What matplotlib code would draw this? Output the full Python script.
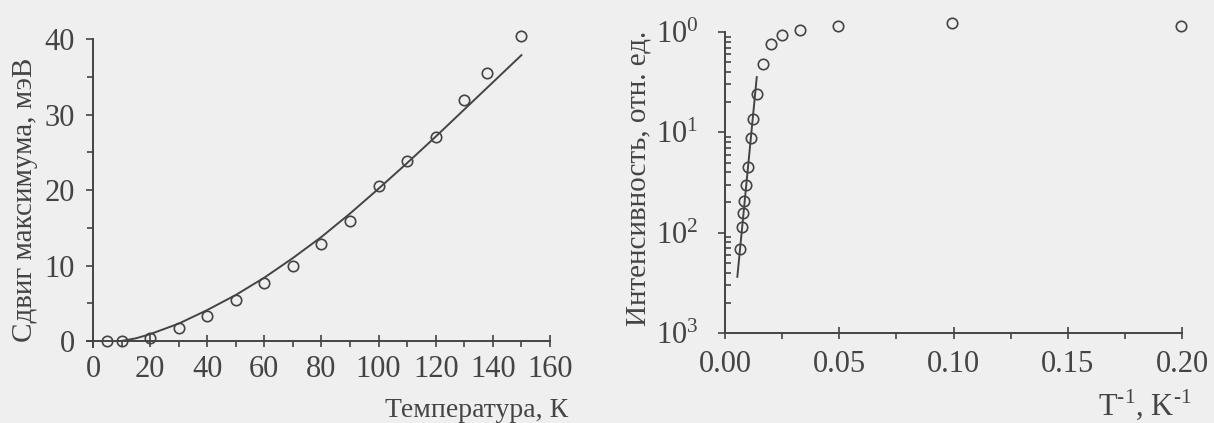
import matplotlib
matplotlib.use("Agg")
import matplotlib.pyplot as plt
from matplotlib.ticker import MultipleLocator, FixedLocator, LogLocator, NullFormatter

plt.rcParams['font.family'] = ['Liberation Serif', 'DejaVu Serif']
plt.rcParams['mathtext.fontset'] = 'custom'
plt.rcParams['mathtext.rm'] = 'Liberation Serif'

ink = '#444444'
paper = '#efefef'

# left panel: peak shift vs temperature
temp = [5, 10, 20, 30, 40, 50, 60, 70, 80, 90, 100, 110, 120, 130, 138, 150]
shift = [0.0, 0.0, 0.4, 1.7, 3.3, 5.4, 7.7, 9.9, 12.9, 15.9, 20.5, 23.9, 27.1, 32.0, 35.5, 40.4]
fit_temp = [10, 15, 20, 30, 40, 50, 60, 70, 80, 90, 100, 110, 120, 130, 140, 150]
fit_shift = [0.0, 0.35, 0.9, 2.3, 4.1, 6.1, 8.4, 11.0, 13.8, 16.9, 20.2, 23.6, 27.1, 30.7, 34.3, 37.9]

# right panel: intensity vs 1/T
inv_t = [0.0067, 0.0073, 0.0078, 0.0084, 0.0092, 0.0100, 0.0112, 0.0124,
         0.0140, 0.0167, 0.0200, 0.0250, 0.0330, 0.0495, 0.0995, 0.1997]
intens = [0.0068, 0.0115, 0.0158, 0.0209, 0.0302, 0.0447, 0.087, 0.135,
          0.24, 0.48, 0.76, 0.93, 1.05, 1.15, 1.23, 1.15]
fit_inv_t = [0.0054, 0.0139]
fit_intens = [0.00363, 0.355]

log_ticks = [1, 0.1, 0.01, 0.001]
log_labels = [r'$\mathregular{10^{0}}$', r'$\mathregular{10^{1}}$',
              r'$\mathregular{10^{2}}$', r'$\mathregular{10^{3}}$']

fs_tick = 22
fs_lab = 21
fig = plt.figure(figsize=(12.14, 4.23), dpi=100, facecolor=paper)

# ---- left
ax1 = fig.add_axes([87/1214, 1-347/423, 463/1214, 307.7/423])
ax1.set_facecolor('none')
ax1.plot(fit_temp, fit_shift, color=ink, lw=1.4)
ax1.plot(temp, shift, 'o', mfc='none', mec=ink, ms=7.5, mew=1.2, clip_on=False)
ax1.set_xlim(-2.1, 160)
ax1.set_ylim(-0.8, 40)
for s in ['top', 'right']:
    ax1.spines[s].set_visible(False)
ax1.spines['bottom'].set_position(('data', 0))
ax1.spines['left'].set_position(('data', 0))
for s in ['bottom', 'left']:
    ax1.spines[s].set_color(ink)
    ax1.spines[s].set_linewidth(1.4)
ax1.xaxis.set_major_locator(MultipleLocator(20))
ax1.xaxis.set_minor_locator(MultipleLocator(10))
ax1.yaxis.set_major_locator(MultipleLocator(10))
ax1.yaxis.set_minor_locator(MultipleLocator(5))
ax1.tick_params(which='both', colors=ink, labelcolor=ink, labelsize=fs_tick, width=1.2)
ax1.tick_params(axis='x', which='major', direction='inout', length=8, pad=6)
ax1.tick_params(axis='x', which='minor', direction='out', length=4)
ax1.tick_params(axis='y', which='major', direction='out', length=5, pad=8)
ax1.tick_params(axis='y', which='minor', direction='out', length=4)
ax1.set_xlabel('Температура, К', fontsize=20, color=ink, ha='right', va='center')
ax1.xaxis.set_label_coords(1.039, -0.205)
ax1.set_ylabel('Сдвиг максимума, мэВ', fontsize=fs_lab, color=ink, va='center')
ax1.yaxis.set_label_coords(-0.134, 0.478)

# ---- right
ax2 = fig.add_axes([725/1214, 1-333/423, 457/1214, 301/423])
ax2.set_facecolor('none')
ax2.set_yscale('log')
ax2.plot(fit_inv_t, fit_intens, color=ink, lw=1.4)
ax2.plot(inv_t, intens, 'o', mfc='none', mec=ink, ms=7.5, mew=1.2, clip_on=False)
ax2.set_xlim(0, 0.2)
ax2.set_ylim(1e-3, 1)
for s in ['top', 'right']:
    ax2.spines[s].set_visible(False)
for s in ['bottom', 'left']:
    ax2.spines[s].set_color(ink)
    ax2.spines[s].set_linewidth(1.4)
ax2.xaxis.set_major_locator(MultipleLocator(0.05))
ax2.xaxis.set_minor_locator(MultipleLocator(0.025))
ax2.xaxis.set_major_formatter(plt.FuncFormatter(lambda v, p: f'{v:.2f}'))
ax2.yaxis.set_major_locator(FixedLocator(log_ticks))
ax2.set_yticklabels(log_labels)
ax2.yaxis.set_minor_locator(LogLocator(base=10, subs=range(2, 10)))
ax2.yaxis.set_minor_formatter(NullFormatter())
ax2.tick_params(which='both', colors=ink, labelcolor=ink, labelsize=fs_tick, width=1.2)
ax2.tick_params(axis='x', which='major', direction='inout', length=8, pad=8)
ax2.tick_params(axis='x', which='minor', direction='out', length=4)
ax2.tick_params(axis='y', which='major', direction='out', length=5, pad=14)
ax2.tick_params(axis='y', which='minor', direction='in', length=4)
ax2.set_xlabel('T$^{\u20101}$, K$^{\u20101}$', fontsize=fs_tick, color=ink, ha='right', va='center')
ax2.xaxis.set_label_coords(1.022, -0.239)
ax2.set_ylabel('Интенсивность, отн. ед.', fontsize=fs_lab, color=ink, va='center')
ax2.yaxis.set_label_coords(-0.19, 0.513)

fig.savefig('out.png', dpi=100, facecolor=paper)
